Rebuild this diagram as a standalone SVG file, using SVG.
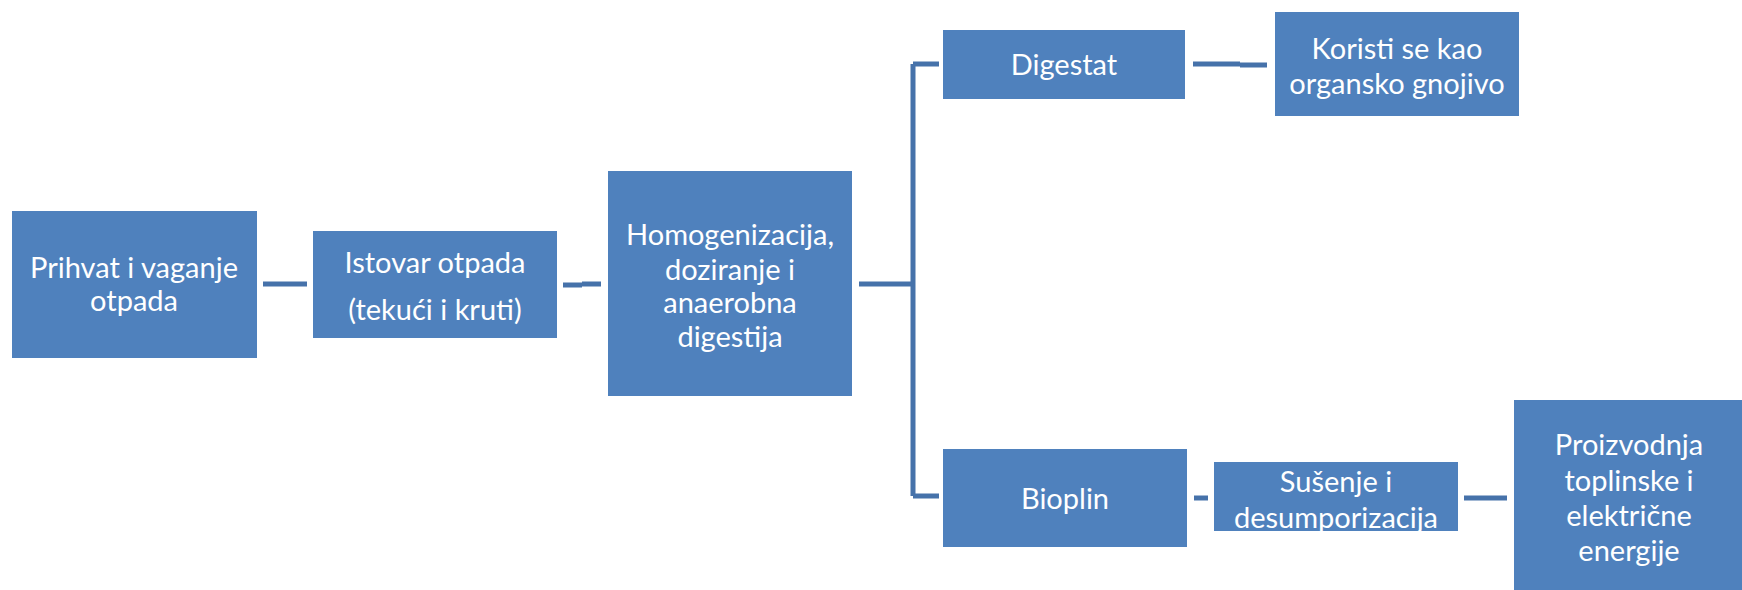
<svg xmlns="http://www.w3.org/2000/svg" width="1742" height="590" viewBox="0 0 1742 590">
<style>
.box{fill:#4F81BD;}
.t{fill:#fff;font-family:Lato,"Liberation Sans",sans-serif;font-size:29px;text-anchor:middle;}
.c{stroke:#4672AA;stroke-width:5;fill:none;}
</style>
<rect width="1742" height="590" fill="#fff"/>
<g id="connectors">
<path class="c" d="M263 284H307"/>
<path class="c" d="M563 285H582M582 284H601"/>
<path class="c" d="M859 284H913M913 64V496M913 64H939M913 496H939"/>
<path class="c" d="M1193 64H1240M1240 65H1267"/>
<path class="c" d="M1194 498H1208"/>
<path class="c" d="M1464 498H1507"/>
</g>
<g id="n1"><rect class="box" x="12" y="211" width="245" height="147"/>
<text class="t" x="134" y="278">Prihvat i vaganje</text><text class="t" x="134" y="311">otpada</text></g>
<g id="n2"><rect class="box" x="313" y="231" width="244" height="107"/>
<text class="t" x="435" y="273">Istovar otpada</text><text class="t" x="435" y="320">(tekući i kruti)</text></g>
<g id="n3"><rect class="box" x="608" y="171" width="244" height="225"/>
<text class="t" x="730" y="245">Homogenizacija,</text><text class="t" x="730" y="280">doziranje i</text><text class="t" x="730" y="313">anaerobna</text><text class="t" x="730" y="347">digestija</text></g>
<g id="n4"><rect class="box" x="943" y="30" width="242" height="69"/>
<text class="t" x="1064" y="75">Digestat</text></g>
<g id="n5"><rect class="box" x="1275" y="12" width="244" height="104"/>
<text class="t" x="1397" y="59">Koristi se kao</text><text class="t" x="1397" y="94">organsko gnojivo</text></g>
<g id="n6"><rect class="box" x="943" y="449" width="244" height="98"/>
<text class="t" x="1065" y="509">Bioplin</text></g>
<g id="n7"><rect class="box" x="1214" y="462" width="244" height="69"/>
<text class="t" x="1336" y="492">Sušenje i</text><text class="t" x="1336" y="528">desumporizacija</text></g>
<g id="n8"><rect class="box" x="1514" y="400" width="244" height="190"/>
<text class="t" x="1629" y="455">Proizvodnja</text><text class="t" x="1629" y="491">toplinske i</text><text class="t" x="1629" y="526">električne</text><text class="t" x="1629" y="561">energije</text></g>
</svg>
